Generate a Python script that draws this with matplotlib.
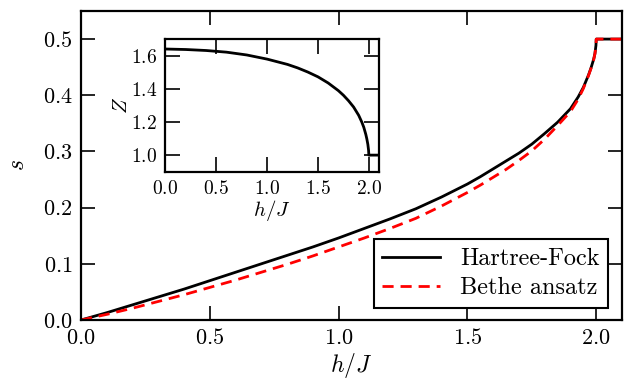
import numpy as np
import matplotlib
matplotlib.use('Agg')
import matplotlib.pyplot as plt

plt.rcParams['font.family'] = 'serif'
plt.rcParams['font.serif'] = ['cmr10']
plt.rcParams['mathtext.fontset'] = 'cm'
plt.rcParams['axes.unicode_minus'] = False
plt.rcParams['axes.formatter.use_mathtext'] = True

# magnetization s vs h/J
h = [0.0, 0.1, 0.2, 0.3, 0.4, 0.5, 0.6, 0.7, 0.8, 0.9, 1.0, 1.1, 1.2, 1.3,
     1.4, 1.5, 1.55, 1.6, 1.65, 1.7, 1.75, 1.8, 1.85, 1.9, 1.93, 1.95, 1.97,
     1.98, 1.99, 1.995, 1.999, 2.0, 2.1]
s_hf = [0.0, 0.013, 0.027, 0.041, 0.055, 0.070, 0.085, 0.100, 0.115, 0.130,
        0.146, 0.163, 0.180, 0.198, 0.219, 0.242, 0.255, 0.269, 0.283, 0.297,
        0.313, 0.332, 0.352, 0.376, 0.397, 0.414, 0.436, 0.449, 0.464, 0.474,
        0.489, 0.5, 0.5]
s_ba = [0.0, 0.010, 0.021, 0.033, 0.045, 0.058, 0.071, 0.085, 0.099, 0.114,
        0.130, 0.146, 0.163, 0.181, 0.203, 0.227, 0.240, 0.254, 0.268, 0.284,
        0.301, 0.322, 0.346, 0.371, 0.393, 0.412, 0.435, 0.448, 0.463, 0.474,
        0.489, 0.5, 0.5]

# inset: Z vs h/J
hz = [0.0, 0.2, 0.4, 0.6, 0.8, 1.0, 1.2, 1.3, 1.4, 1.5, 1.6, 1.7, 1.75, 1.8,
      1.85, 1.9, 1.93, 1.95, 1.97, 1.98, 1.99, 1.997, 2.0, 2.1]
z = [1.640, 1.637, 1.631, 1.621, 1.604, 1.579, 1.547, 1.526, 1.501, 1.472,
     1.435, 1.389, 1.361, 1.328, 1.290, 1.240, 1.200, 1.168, 1.125, 1.098,
     1.065, 1.030, 1.0, 1.0]

fig = plt.figure(figsize=(6.35, 3.83), dpi=100)
ax = fig.add_axes([0.1276, 0.1645, 0.8519, 0.8068])
ax.plot(h, s_hf, color='black', lw=2, label='Hartree-Fock')
ax.plot(h, s_ba, color='red', lw=2, ls=(0, (4, 2.5)), label='Bethe ansatz')
ax.set_xlim(0, 2.1)
ax.set_ylim(0, 0.55)
ax.set_xticks([0.0, 0.5, 1.0, 1.5, 2.0])
ax.set_yticks([0.0, 0.1, 0.2, 0.3, 0.4, 0.5])
ax.set_xlabel('$h/J$', fontsize=17, labelpad=2)
ax.set_ylabel('$s$', fontsize=17, labelpad=10)
ax.tick_params(direction='in', length=10, width=1.2, labelsize=16,
               top=True, right=True, pad=6)
for sp in ax.spines.values():
    sp.set_linewidth(1.6)
leg = ax.legend(loc='lower right', fontsize=17.5, fancybox=False,
                handlelength=2.4, borderpad=0.35, labelspacing=0.3,
                borderaxespad=0, bbox_to_anchor=(0.974, 0.039))
leg.get_frame().set_edgecolor('black')
leg.get_frame().set_linewidth(1.5)
leg.get_frame().set_alpha(1)

ins = fig.add_axes([0.2606, 0.5517, 0.3363, 0.3463])
ins.plot(hz, z, color='black', lw=2)
ins.set_xlim(0, 2.1)
ins.set_ylim(0.9, 1.7)
ins.set_xticks([0.0, 0.5, 1.0, 1.5, 2.0])
ins.set_yticks([1.0, 1.2, 1.4, 1.6])
ins.set_xlabel('$h/J$', fontsize=15, labelpad=0)
ins.set_ylabel('$Z$', fontsize=15, labelpad=0)
ins.tick_params(direction='in', length=11, width=1.2, labelsize=14,
                top=True, right=True, pad=6)
for sp in ins.spines.values():
    sp.set_linewidth(1.6)

fig.savefig('out.png', dpi=100)
